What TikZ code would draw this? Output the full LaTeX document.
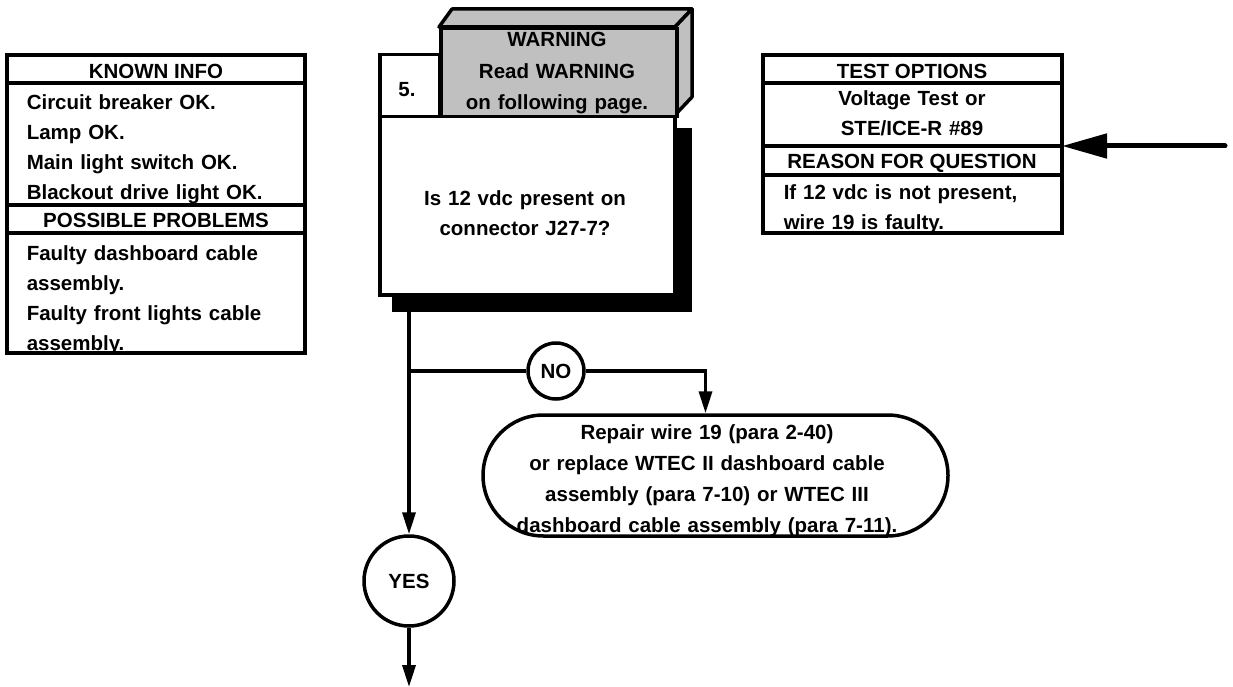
\documentclass[tikz,border=0pt]{standalone}
\usepackage{fontspec}
\setmainfont{Liberation Sans}
\usetikzlibrary{arrows.meta,shapes.misc}
\definecolor{warngray}{RGB}{192,192,192}
\newcommand{\chartfont}{\fontsize{20.5}{30}\selectfont\bfseries}
\tikzset{
  every picture/.style={line width=3.5pt},
  box/.style={draw, fill=white, inner sep=0pt, anchor=north west},
  lbl/.style={font=\chartfont, inner sep=0pt},
  para/.style={lbl, text width=#1, align=left, anchor=base west},
  cpara/.style={lbl, text width=#1, align=center, anchor=base},
  flow/.style={-{Triangle[length=22pt,width=13pt]}},
  answer/.style={draw, circle, fill=white, inner sep=0pt, font=\chartfont},
}

\begin{document}
\begin{tikzpicture}[x=1pt,y=-1pt]
    \useasboundingbox (0,0) rectangle (1233,687);

    % left table
    \draw (7,55) rectangle (305,353);
    \draw (7,83) -- (305,83) (7,205) -- (305,205) (7,233) -- (305,233);
    \node[lbl, anchor=base] (kihead) at (156,79) {KNOWN INFO};
    \node[para=280pt] (kitext) at (25,110) {Circuit breaker OK.\\Lamp OK.\\Main light switch OK.\\Blackout drive light OK.};
    \node[lbl, anchor=base] (pphead) at (156,227) {POSSIBLE PROBLEMS};
    \node[para=280pt] (pptext) at (25,260) {Faulty dashboard cable\\assembly.\\Faulty front lights cable\\assembly.};

    % right table
    \draw (763,55) rectangle (1062,233);
    \draw (763,83) -- (1062,83) (763,146) -- (1062,146) (763,175) -- (1062,175);
    \node[lbl, anchor=base] (tohead) at (912,79) {TEST OPTIONS};
    \node[cpara=295pt] (totext) at (912,106) {Voltage Test or\\STE/ICE-R \#89};
    \node[lbl, anchor=base] (rqhead) at (912,169) {REASON FOR QUESTION};
    \node[para=270pt] (rqtext) at (782,200) {If 12 vdc is not present,\\wire 19 is faulty.};
    \coordinate (rqin) at (1062,146);
    \coordinate (feed) at (1225,146);
    \draw[line width=5pt, line cap=round, -{Triangle[length=45pt,width=24pt]}] (feed) -- (rqin);

    % question box
    \fill (392,128) rectangle (692,312);
    \node[box, minimum width=295pt, minimum height=178pt] (q5) at (378,115) {};
    \node[cpara=290pt] (q5text) at (525,205) {Is 12 vdc present on\\connector J27-7?};
    \node[box, minimum width=60pt, minimum height=62pt] (step5) at (378,53) {};
    \node[lbl, anchor=base] (step5text) at (407,97) {5.};
    \filldraw[fill=warngray, line join=round] (439,27) -- (452,9) -- (692,9) -- (675,27) -- cycle;
    \filldraw[fill=warngray, line join=round] (675,27) -- (692,9) -- (692,97) -- (675,115) -- cycle;
    \node[box, fill=warngray, minimum width=236pt, minimum height=88pt] (warn) at (439,27) {};
    \node[cpara=236pt, font={\fontsize{20.5}{31.5}\selectfont\bfseries}] (warntext) at (557,47) {WARNING\\Read WARNING\\on following page.};

    % answers
    \node[answer, minimum size=56pt] (no) at (556,371) {NO};
    \node[answer, minimum size=90pt] (yes) at (409,581) {YES};
    \node[draw, rounded rectangle, fill=white, inner sep=0pt, minimum width=465pt, minimum height=121pt] (fix) at (715.5,475.5) {};
    \node[cpara=460pt, font={\fontsize{20.5}{31}\selectfont\bfseries}] (fixtext) at (707,439) {Repair wire 19 (para 2-40)\\or replace WTEC II dashboard cable\\assembly (para 7-10) or WTEC III\\dashboard cable assembly (para 7-11).};

    \coordinate (split) at (yes.north |- no.west);
    \coordinate (fixin) at ([xshift=-10pt]fix.north);
    \coordinate (next) at (409,687);
    \draw[flow] (q5.south -| yes.north) -- (yes.north);
    \draw (split) -- (no.west);
    \draw[flow] (no.east) -| (fixin);
    \draw[flow] (yes.south) -- (next);
\end{tikzpicture}
\end{document}
